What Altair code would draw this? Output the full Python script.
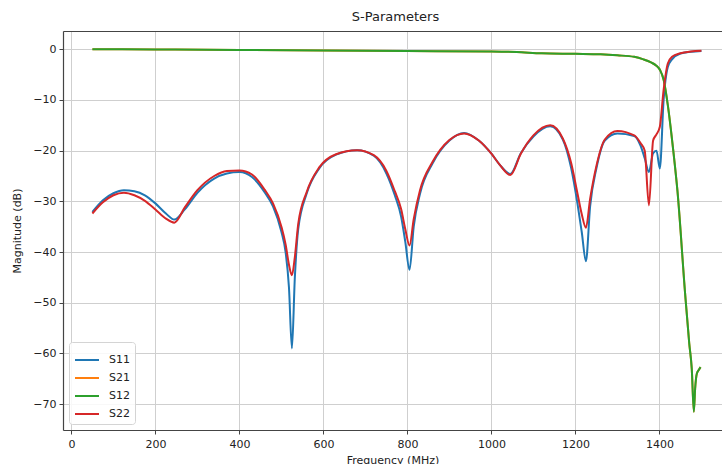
import altair as alt
import pandas as pd

# Frequencies (MHz) for the reflection curves
freq = [50, 75, 100, 125, 150, 175, 200, 225, 245, 270, 300, 340, 370, 400, 430,
        460, 480, 500, 510, 518, 525, 532, 540, 560, 590, 630, 680, 720, 750, 770,
        785, 795, 805, 815, 830, 860, 900, 935, 970, 1000, 1020, 1045, 1070, 1100,
        1140, 1170, 1190, 1205, 1215, 1225, 1235, 1250, 1270, 1300, 1340, 1355,
        1365, 1375, 1385, 1393, 1401, 1410, 1420, 1430, 1450, 1475, 1500]

s11 = [-32.1, -29.8, -28.4, -27.8, -28.0, -28.8, -30.4, -32.4, -33.6, -31.6, -28.3,
       -25.5, -24.5, -24.2, -25.2, -28.2, -31.0, -36.0, -40.0, -47.0, -59.0, -45.0,
       -35.5, -28.5, -23.5, -20.8, -19.9, -21.0, -24.5, -28.8, -33.0, -38.0, -43.5,
       -35.0, -28.5, -22.5, -18.0, -16.5, -18.0, -20.6, -22.8, -24.6, -20.5, -17.2,
       -15.2, -17.8, -23.5, -30.5, -36.0, -41.8, -31.0, -23.5, -18.0, -16.6, -17.1,
       -19.0, -21.5, -24.2, -20.5, -20.0, -23.5, -10.0, -3.5, -2.0, -0.85, -0.5, -0.33]

s22 = [-32.4, -30.2, -28.8, -28.3, -28.8, -29.9, -31.6, -33.4, -34.2, -31.2, -27.8,
       -25.0, -24.0, -23.9, -24.7, -27.7, -30.4, -35.0, -38.5, -42.5, -44.6, -41.0,
       -34.5, -28.2, -23.3, -20.7, -19.9, -20.9, -24.0, -28.0, -31.5, -35.5, -38.7,
       -33.5, -27.8, -22.2, -17.9, -16.6, -18.0, -20.6, -22.8, -24.8, -20.6, -17.0,
       -15.0, -17.6, -22.5, -28.5, -32.5, -35.2, -29.5, -23.0, -17.8, -16.1, -17.0,
       -18.5, -20.0, -30.8, -18.0, -16.8, -15.3, -8.0, -2.8, -1.5, -0.8, -0.45, -0.3]

# Frequencies (MHz) for the transmission curves
freq_t = [50, 200, 400, 600, 800, 1000, 1060, 1120, 1200, 1260, 1300, 1340, 1362,
          1380, 1392, 1402, 1410, 1420, 1433, 1443, 1461, 1471, 1477, 1482, 1485,
          1489, 1494, 1498]

s21 = [0.0, -0.05, -0.15, -0.25, -0.35, -0.45, -0.55, -0.8, -0.9, -1.0, -1.2, -1.5,
       -2.0, -2.6, -3.2, -4.2, -6.0, -11.0, -20.0, -28.0, -48.0, -58.0, -63.0, -71.5,
       -67.0, -64.0, -63.2, -62.7]

s12 = [0.0, -0.05, -0.15, -0.25, -0.35, -0.45, -0.55, -0.8, -0.9, -1.0, -1.2, -1.5,
       -2.0, -2.6, -3.2, -4.2, -6.0, -11.0, -20.0, -28.0, -48.0, -58.0, -63.0, -71.5,
       -67.0, -64.0, -63.2, -62.7]

series_names = ["S11", "S21", "S12", "S22"]
series_colors = ["#1f77b4", "#ff7f0e", "#2ca02c", "#d62728"]
x_ticks = [0, 200, 400, 600, 800, 1000, 1200, 1400]
y_ticks = [0, -10, -20, -30, -40, -50, -60, -70]

rows = []
for f, v in zip(freq, s11):
    rows.append({"Frequency": f, "dB": v, "Series": "S11"})
for f, v in zip(freq_t, s21):
    rows.append({"Frequency": f, "dB": v, "Series": "S21"})
for f, v in zip(freq_t, s12):
    rows.append({"Frequency": f, "dB": v, "Series": "S12"})
for f, v in zip(freq, s22):
    rows.append({"Frequency": f, "dB": v, "Series": "S22"})
df = pd.DataFrame(rows)

FONT = "DejaVu Sans"
x_scale = alt.Scale(domain=[-20, 1549], nice=False, zero=False)
y_scale = alt.Scale(domain=[-75.1, 3.6], nice=False, zero=False)
color_scale = alt.Scale(domain=series_names, range=series_colors)

y_axis = alt.Axis(values=y_ticks, format="d", title="Magnitude (dB)", grid=True,
                  gridColor="#cfcfcf", gridWidth=1, domainColor="#444444", domainWidth=1.2,
                  tickColor="#444444", tickSize=4, labelPadding=3, labelFontSize=11,
                  labelFont=FONT, labelColor="#222222", titleFont=FONT, titleFontSize=11,
                  titleFontWeight="normal", titleColor="#222222", titlePadding=10)

x_axis_bottom = alt.Axis(values=x_ticks, format="d", title="Frequency (MHz)", grid=True,
                         gridColor="#cfcfcf", gridWidth=1, domainColor="#444444",
                         domainWidth=1.2, tickColor="#444444", tickSize=4, labelPadding=4,
                         labelFontSize=11, labelFont=FONT, labelColor="#222222",
                         titleFont=FONT, titleFontSize=11, titleFontWeight="normal",
                         titleColor="#222222", titleY=24, titleBaseline="top",
                         labelFlush=False)

x_axis_top = alt.Axis(orient="top", values=x_ticks, title=None, labels=False, ticks=False,
                      grid=False, domainColor="#444444", domainWidth=1.2)

legend = alt.Legend(title=None, orient="none", legendX=6, legendY=311,
                    symbolType="stroke", symbolSize=576, symbolStrokeWidth=2,
                    labelFontSize=11, labelFont=FONT, labelColor="#222222",
                    fillColor="rgba(255,255,255,0.85)", strokeColor="#d4d4d4",
                    cornerRadius=3, padding=5, rowPadding=-4.3, labelOffset=9)


def series_layer(name, xaxis):
    return alt.Chart(df).transform_filter(
        alt.datum.Series == name
    ).mark_line(strokeWidth=2, interpolate="monotone", clip=True).encode(
        x=alt.X("Frequency:Q", scale=x_scale, axis=xaxis),
        y=alt.Y("dB:Q", scale=y_scale, axis=y_axis),
        color=alt.Color("Series:N", scale=color_scale, legend=legend),
    )


chart = alt.layer(
    series_layer("S11", x_axis_bottom),
    series_layer("S21", x_axis_top),
    series_layer("S12", None),
    series_layer("S22", None),
).resolve_axis(x="independent").properties(
    width=659,
    height=399,
    autosize=alt.AutoSizeParams(type="none"),
    padding={"left": 63, "top": 31, "right": 0, "bottom": 34},
    title=alt.Title("S-Parameters", font=FONT, fontSize=13, fontWeight="normal",
                    color="#222222", offset=7, dx=3),
).configure_view(stroke=None).configure(background="white")

chart.save("out.html", embed_options={"renderer": "svg", "actions": False})
